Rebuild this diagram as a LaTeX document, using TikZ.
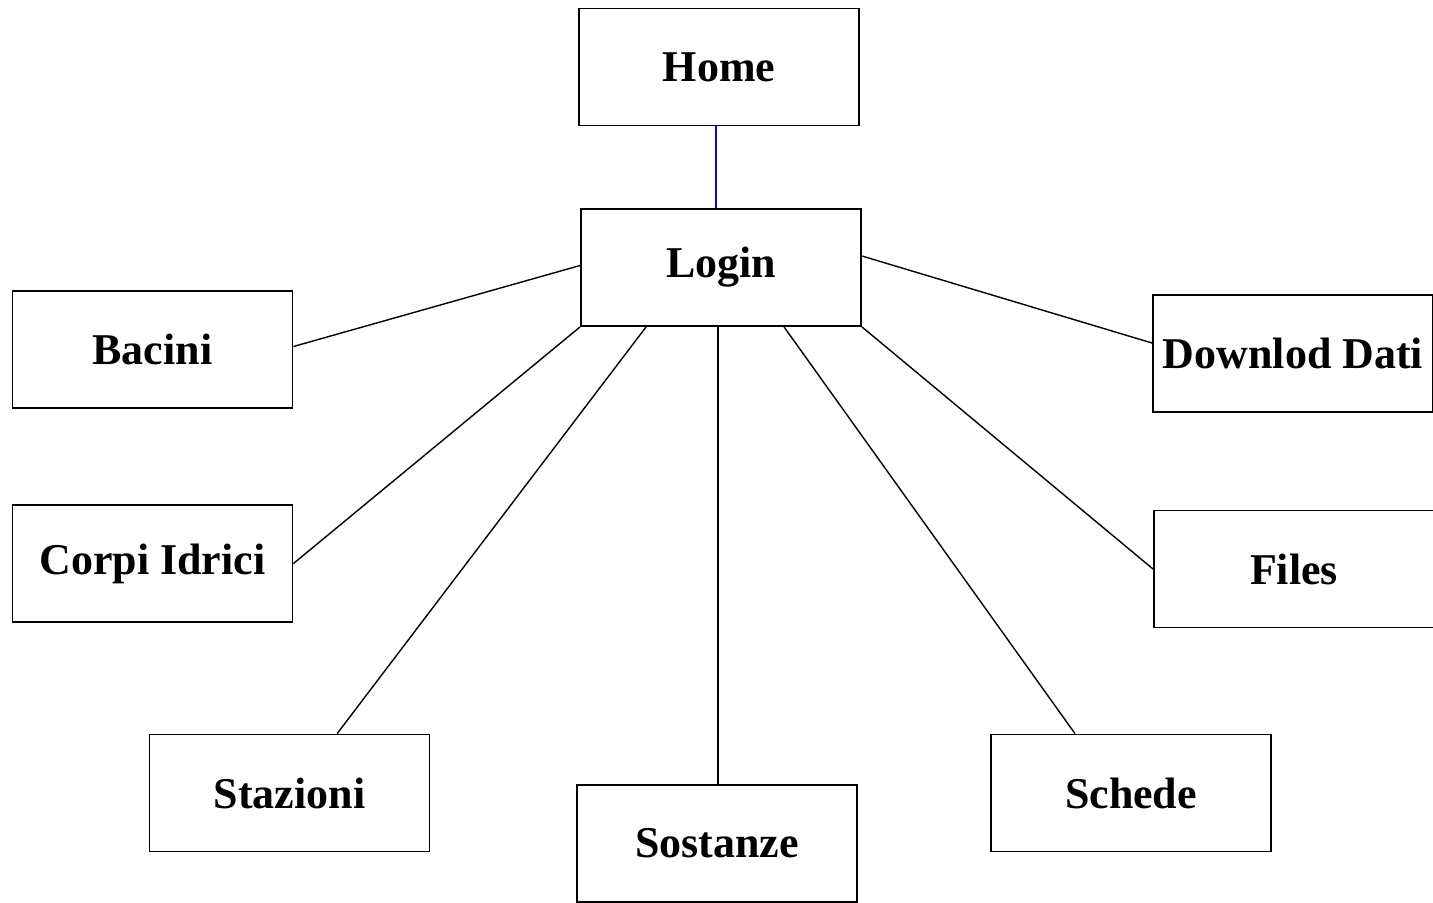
\documentclass[tikz,border=0pt]{standalone}
\usepackage{fontspec}
\setmainfont{Liberation Serif}
\begin{document}
\begin{tikzpicture}[x=0.01cm,y=-0.01cm,
  page/.style={draw,line width=0.5pt,minimum width=2.8cm,minimum height=1.17cm,
    inner sep=0pt,font=\fontsize{12.5}{15}\selectfont\bfseries},
  link/.style={line width=0.4pt}]
\useasboundingbox (0,0) rectangle (1433,902);
\node[page] (home) at (719,67) {Home};
\node[page] (login) at (721,267.5) {Login};
\node[page] (bacini) at (152.5,349.5) {Bacini};
\node[page] (corpi) at (152.5,563.5) {Corpi Idrici};
\node[page] (stazioni) at (289.5,793) {Stazioni};
\node[page] (sostanze) at (717,843.5) {Sostanze};
\node[page] (schede) at (1131,793) {Schede};
\node[page] (files) at (1294,569) {Files};
\node[page] (dati) at (1293,353.5) {Downlod Dati};
\draw[link,blue] ([xshift=-0.03cm]home.south) -- ([xshift=-0.03cm]home.south |- login.north);
\draw[link] ([yshift=0.02cm]login.west) -- ([yshift=0.03cm]bacini.east);
\draw[link] (login.south west) -- (corpi.east);
\draw[link] ([xshift=0.66cm]login.south west) -- ([xshift=1.885cm]stazioni.north west);
\draw[link] ([xshift=-0.03cm]login.south) -- ([xshift=-0.03cm]login.south |- sostanze.north);
\draw[link] ([xshift=0.63cm]login.south) -- ([xshift=-0.56cm]schede.north);
\draw[link] (login.south east) -- (files.west);
\draw[link] ([yshift=0.115cm]login.east) -- ([yshift=0.105cm]dati.west);
\end{tikzpicture}
\end{document}
